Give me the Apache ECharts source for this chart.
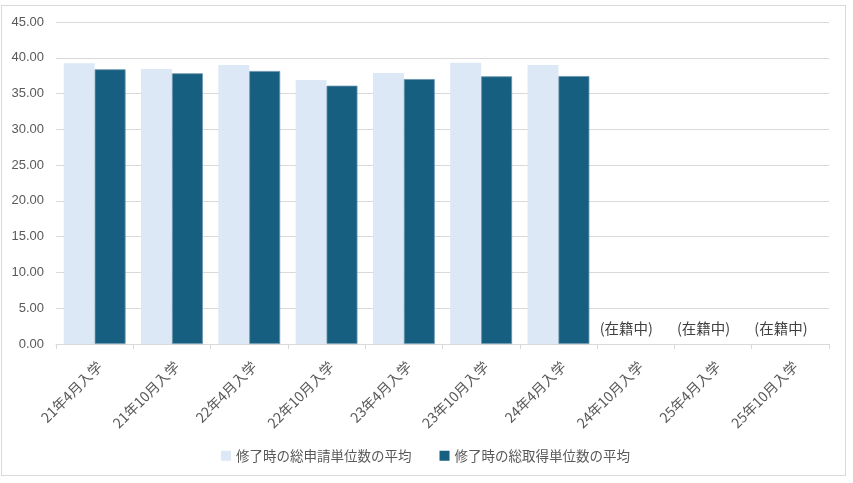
<!DOCTYPE html>
<html><head><meta charset="utf-8">
<script src="https://cdn.jsdelivr.net/npm/echarts@6/dist/echarts.min.js"></script>
<style>html,body{margin:0;padding:0;background:#fff}#c{width:853px;height:483px;}
#frame{position:absolute;left:1px;top:5px;width:845px;height:471px;border:1px solid #d9d9d9;box-sizing:border-box;pointer-events:none}</style>
</head><body><div id="c"></div><div id="frame"></div>
<script>
const categories = ['21年4月入学','21年10月入学','22年4月入学','22年10月入学','23年4月入学','23年10月入学','24年4月入学','24年10月入学','25年4月入学','25年10月入学'];
const seriesNames = ['修了時の総申請単位数の平均','修了時の総取得単位数の平均'];
const applied = [39.23, 38.43, 38.99, 36.89, 37.87, 39.31, 38.99, 0, 0, 0];
const earned = [38.39, 37.83, 38.15, 36.10, 37.03, 37.41, 37.45, null, null, null];
const enrolledLabel = '(在籍中)';
const enrolledFrom = 7;
const yTicks = {min: 0, max: 45, interval: 5};

const font = 'Liberation Sans, "Noto Sans CJK JP", sans-serif';
const chart = echarts.init(document.getElementById('c'), null, {renderer: 'canvas'});
chart.setOption({
  animation: false,
  textStyle: {fontFamily: font},
  grid: {left: 56, right: 24, top: 22, bottom: 139, containLabel: false},
  legend: {
    left: 216, top: 444, itemWidth: 10, itemHeight: 10, itemGap: 28,
    icon: 'rect',
    itemStyle: {borderWidth: 0},
    textStyle: {fontSize: 13.5, color: '#595959', fontFamily: '"Noto Sans CJK JP", sans-serif'},
    data: seriesNames
  },
  xAxis: {
    type: 'category', data: categories,
    axisLine: {lineStyle: {color: '#d9d9d9'}},
    axisTick: {show: true, length: 5, lineStyle: {color: '#d9d9d9'}},
    axisLabel: {rotate: 45, fontSize: 14, color: '#595959', margin: 15, interval: 0, verticalAlign: 'top',
      fontFamily: '"Noto Sans CJK JP", sans-serif'}
  },
  yAxis: {
    type: 'value', min: yTicks.min, max: yTicks.max, interval: yTicks.interval,
    axisLabel: {formatter: v => v.toFixed(2), fontSize: 13, color: '#595959', margin: 12},
    splitLine: {lineStyle: {color: '#d9d9d9'}},
    axisLine: {show: false}, axisTick: {show: false}
  },
  series: [
    {
      name: seriesNames[0], type: 'bar', barGap: '0%', barCategoryGap: '20%',
      itemStyle: {color: '#dce8f5'},
      data: applied.map((v, i) => i >= enrolledFrom ? {
        value: v,
        label: {show: true, position: 'top', formatter: enrolledLabel, fontSize: 14.5, color: '#404040',
          distance: 8, offset: [6, 0], fontFamily: '"Noto Sans CJK JP", sans-serif'}
      } : v)
    },
    {
      name: seriesNames[1], type: 'bar',
      itemStyle: {color: '#175f80', borderColor: '#6a93ad', borderWidth: 0.8},
      data: earned
    }
  ]
});
</script></body></html>
